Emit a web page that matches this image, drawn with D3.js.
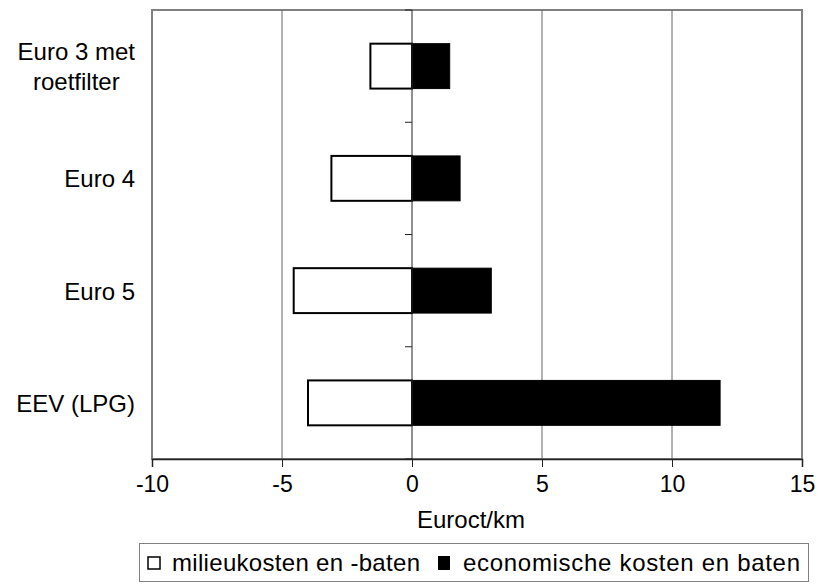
<!DOCTYPE html>
<html>
<head>
<meta charset="utf-8">
<script src="https://cdn.jsdelivr.net/npm/d3@7"></script>
<style>
  body { margin: 0; background: #fff; }
  text { font-family: "Liberation Sans", Arial, sans-serif; fill: #000; }
</style>
</head>
<body>
<div id="chart"></div>
<script>
// data
const categories = [['Euro 3 met', 'roetfilter'], ['Euro 4'], ['Euro 5'], ['EEV (LPG)']];
const milieu = [-1.6, -3.1, -4.55, -4.0];
const economisch = [1.45, 1.85, 3.05, 11.85];
const xTicks = [-10, -5, 0, 5, 10, 15];
const legendLabels = ['milieukosten en -baten', 'economische kosten en baten'];

const W = 818, H = 585;
const plot = { left: 152, right: 802, top: 10, bottom: 459 };

const svg = d3.select('#chart').append('svg')
    .attr('width', W)
    .attr('height', H);

const x = d3.scaleLinear().domain([-10, 15]).range([plot.left, plot.right]);
const y = d3.scaleBand().domain(d3.range(categories.length))
    .range([plot.top, plot.bottom]).paddingInner(0.6).paddingOuter(0.3);
const band = d3.scaleBand().domain(d3.range(categories.length)).range([plot.top, plot.bottom]);

// frame
svg.append('rect')
    .attr('x', plot.left).attr('y', plot.top)
    .attr('width', plot.right - plot.left).attr('height', plot.bottom - plot.top)
    .attr('fill', 'none').attr('stroke', '#808080').attr('stroke-width', 2);

// gridlines
svg.append('g').selectAll('line')
    .data(xTicks.filter(d => d !== -10 && d !== 15 && d !== 0))
    .join('line')
    .attr('x1', d => x(d)).attr('x2', d => x(d))
    .attr('y1', plot.top).attr('y2', plot.bottom)
    .attr('stroke', '#666').attr('stroke-width', 1);

// bars
const g = svg.append('g');
g.selectAll('.neg').data(milieu).join('rect')
    .attr('class', 'neg')
    .attr('x', d => x(d)).attr('y', (d, i) => y(i))
    .attr('width', d => x(0) - x(d)).attr('height', y.bandwidth())
    .attr('fill', '#fff').attr('stroke', '#000').attr('stroke-width', 2);
g.selectAll('.pos').data(economisch).join('rect')
    .attr('class', 'pos')
    .attr('x', x(0)).attr('y', (d, i) => y(i))
    .attr('width', d => x(d) - x(0)).attr('height', y.bandwidth())
    .attr('fill', '#000').attr('stroke', '#000').attr('stroke-width', 1);

// category axis at zero
svg.append('line')
    .attr('x1', x(0)).attr('x2', x(0))
    .attr('y1', plot.top).attr('y2', plot.bottom)
    .attr('stroke', '#222').attr('stroke-width', 1);
svg.append('g').selectAll('line')
    .data(d3.range(categories.length + 1))
    .join('line')
    .attr('x1', x(0) - 7).attr('x2', x(0))
    .attr('y1', d => d < categories.length ? band(d) : plot.bottom)
    .attr('y2', d => d < categories.length ? band(d) : plot.bottom)
    .attr('stroke', '#222');

// x axis
const xAxis = svg.append('g')
    .attr('transform', `translate(0,${plot.bottom})`)
    .call(d3.axisBottom(x).tickValues(xTicks).tickSize(8).tickPadding(9).tickFormat(d3.format('d')));
xAxis.select('.domain').attr('stroke', '#222').attr('stroke-width', 1.5);
xAxis.selectAll('.tick line').attr('stroke', '#222');
xAxis.selectAll('text')
    .style('font-family', '"Liberation Sans", Arial, sans-serif')
    .style('font-size', '23px').attr('fill', '#000')
    .text(d => d < 0 ? '-' + Math.abs(d) : d);

svg.append('text')
    .attr('x', 471).attr('y', 528)
    .attr('text-anchor', 'middle')
    .style('font-size', '24px')
    .text('Euroct/km');

// category labels: block right-aligned, lines centred inside the block
const labelRight = 135;
const labels = svg.append('g').selectAll('text')
    .data(categories)
    .join('text')
    .attr('text-anchor', 'middle')
    .style('font-size', '24px')
    .attr('y', (d, i) => band(i) + band.bandwidth() / 2 - (d.length - 1) * 15 + 9);
labels.selectAll('tspan')
    .data(d => d)
    .join('tspan')
    .attr('dy', (d, i) => i === 0 ? 0 : 30)
    .text(d => d);
labels.each(function() {
    const spans = d3.select(this).selectAll('tspan');
    let maxW = 0;
    spans.each(function() { maxW = Math.max(maxW, this.getComputedTextLength()); });
    spans.attr('x', labelRight - maxW / 2);
});

// legend
const legend = svg.append('g');
legend.append('rect')
    .attr('x', 139.5).attr('y', 543.5).attr('width', 669).attr('height', 38)
    .attr('fill', '#fff').attr('stroke', '#808080').attr('stroke-width', 1);
legend.append('rect')
    .attr('x', 148).attr('y', 557).attr('width', 12).attr('height', 12)
    .attr('fill', '#fff').attr('stroke', '#000').attr('stroke-width', 1.5);
legend.append('text')
    .attr('x', 172).attr('y', 571)
    .attr('textLength', 248).attr('lengthAdjust', 'spacing')
    .style('font-size', '24px')
    .text(legendLabels[0]);
legend.append('rect')
    .attr('x', 438).attr('y', 556).attr('width', 12).attr('height', 14)
    .attr('fill', '#000');
legend.append('text')
    .attr('x', 463).attr('y', 571)
    .attr('textLength', 337).attr('lengthAdjust', 'spacing')
    .style('font-size', '24px')
    .text(legendLabels[1]);
</script>
</body>
</html>
